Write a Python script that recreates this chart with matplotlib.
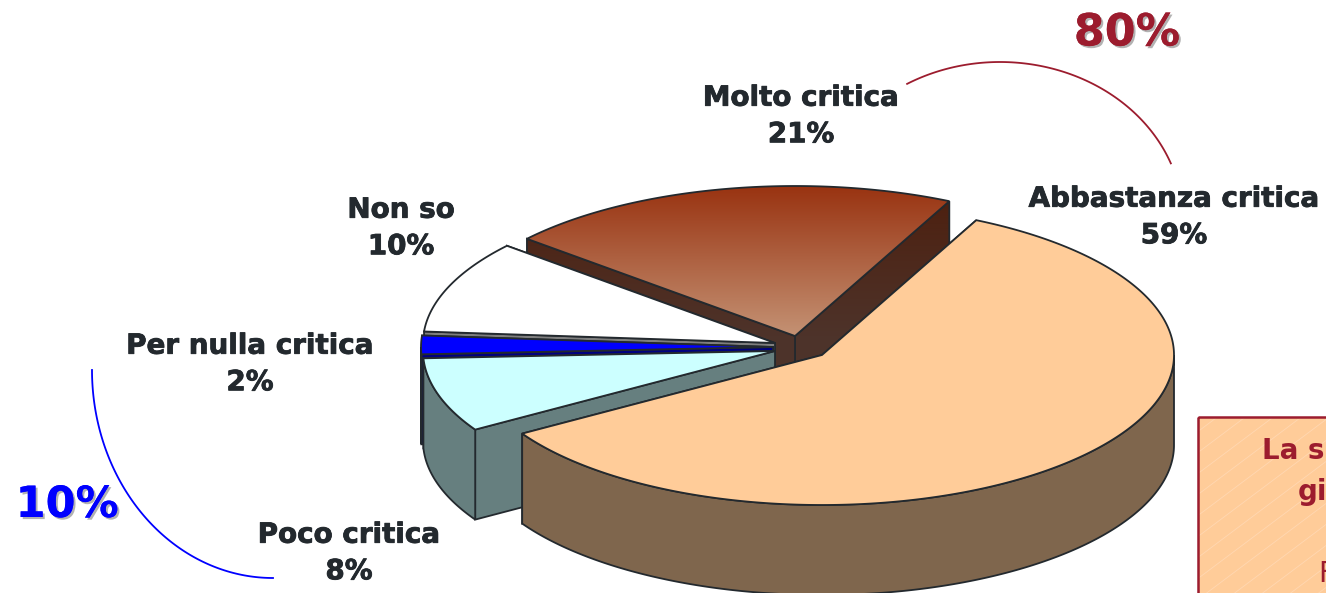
import numpy as np
import matplotlib
matplotlib.use('Agg')
import matplotlib.pyplot as plt
from matplotlib.patches import Polygon, Rectangle
import matplotlib.patheffects as pe

# data
labels = ['Abbastanza critica', 'Poco critica', 'Per nulla critica', 'Non so', 'Molto critica']
values = [59, 8, 2, 10, 21]
top_colors = ['#ffcc99', '#ccffff', '#0000ff', '#ffffff', None]
wall_colors = ['#7f664d', '#667f7f', '#000080', '#7f7f7f', None]
brace_totals = ['80%', '10%']

# layout, in pixels
centers = [(822, 355), (775, 351), (773, 347), (775, 343), (795, 336)]
label_pos = [(1174, 217), (349, 553), (250, 364), (401, 228), (801, 116)]
start_angle = 64
rx, ry, depth = 352, 150, 90
ink = '#23292e'
red = '#9c1c2e'

fig = plt.figure(figsize=(13.26, 5.93), dpi=100)
ax = fig.add_axes([0, 0, 1, 1])
z = [1]


def next_z():
    z[0] += 1
    return z[0]


def rim(cx, cy, a0, a1):
    n = max(int(abs(a1 - a0)) * 2, 2)
    t = np.radians(np.linspace(a0, a1, n))
    return np.column_stack((cx + rx * np.cos(t), cy - ry * np.sin(t)))


def gradient_fill(points, is_wall):
    # brown fade used on the top slice, darker for its walls
    if is_wall:
        top = np.array([0x4d, 0x1f, 0x0e]) / 255
        bottom = np.array([0x4d, 0x33, 0x2a]) / 255
    else:
        top = np.array([0x99, 0x33, 0x11]) / 255
        bottom = np.array([0xc4, 0x92, 0x74]) / 255
    s = np.clip(np.linspace(0, 264 / 150, 264), 0, 1)[:, None]
    img = (top * (1 - s) + bottom * s)[:, None, :]
    patch = Polygon(points, closed=True, fc='none', ec=ink, lw=1.3, zorder=next_z())
    ax.add_patch(patch)
    im = ax.imshow(img, extent=(500, 1000, 450, 186), aspect='auto', zorder=patch.get_zorder() - 0.5)
    im.set_clip_path(patch)


def draw_shape(points, color, is_wall=False):
    if color is None:
        gradient_fill(points, is_wall)
    else:
        ax.add_patch(Polygon(points, closed=True, fc=color, ec=ink, lw=1.3, zorder=next_z()))


ends = start_angle - np.cumsum(values) * 3.6
starts = np.concatenate(([start_angle], ends[:-1]))

# back slices first so the front ones cover them
for i in range(len(values) - 1, -1, -1):
    a0 = starts[i]
    a1 = ends[i]
    cx, cy = centers[i]
    top = rim(cx, cy, a0, a1)
    down = np.array([0, depth])
    c = np.array([cx, cy])

    # cut faces
    for p in (top[-1], top[0]):
        face = np.array([c, p, p + down, c + down])
        draw_shape(face, wall_colors[i], True)

    # outer wall, only the front half shows
    lo = max(a1, -180)
    hi = min(a0, 0)
    if hi > lo:
        front = rim(cx, cy, hi, lo)
        wall = np.vstack((front, (front + down)[::-1]))
        draw_shape(wall, wall_colors[i], True)

    draw_shape(np.vstack((c, top)), top_colors[i])

# percent labels
thick = [pe.withStroke(linewidth=0.6, foreground=ink)]
for name, v, (x, y) in zip(labels, values, label_pos):
    ax.text(x, y, '%s\n%d%%' % (name, v), ha='center', va='center', color=ink,
            fontsize=20, fontweight='bold', family='DejaVu Sans', linespacing=1.39,
            path_effects=thick, zorder=100)

# arcs around the groups
t = np.radians(np.linspace(0, 90, 100))
ax.plot(273 - 181 * np.cos(t), 370 + 208 * np.sin(t), color='#0000ff', lw=1.3, zorder=100)
t = np.radians(np.linspace(-120.5, -21, 100))
ax.plot(1000 + 183 * np.cos(t), 220 + 158 * np.sin(t), color=red, lw=1.3, zorder=100)

shadow = [pe.withSimplePatchShadow(offset=(1.5, -1.5), shadow_rgbFace='#808080', alpha=0.6), pe.Normal()]
ax.text(1127, 33, brace_totals[0], ha='center', va='center', color=red, fontsize=32,
        fontweight='bold', path_effects=shadow, zorder=100)
ax.text(67, 505, brace_totals[1], ha='center', va='center', color='#0000ff', fontsize=31,
        fontweight='bold', path_effects=shadow, zorder=100)

# note box, runs off the page
box = Rectangle((1198, 417), 160, 220, fc='#ffcc99', ec='none', zorder=100)
ax.add_patch(box)
for x0 in range(1100, 1800, 28):
    line, = ax.plot([x0, x0 - 300], [400, 625], color='#ffd8b2', lw=0.6, zorder=101)
    line.set_clip_path(box)
ax.add_patch(Rectangle((1198, 417), 160, 220, fc='none', ec=red, lw=1.8, zorder=102))
ax.text(1262, 451, 'La s', ha='left', va='center', color=red, fontsize=20, fontweight='bold', zorder=103)
ax.text(1298, 492, 'gi', ha='left', va='center', color=red, fontsize=20, fontweight='bold', zorder=103)
ax.text(1318, 574, 'F', ha='left', va='center', color=red, fontsize=20, zorder=103)

ax.set_xlim(0, 1326)
ax.set_ylim(593, 0)
ax.axis('off')
fig.savefig('out.png', dpi=100)
